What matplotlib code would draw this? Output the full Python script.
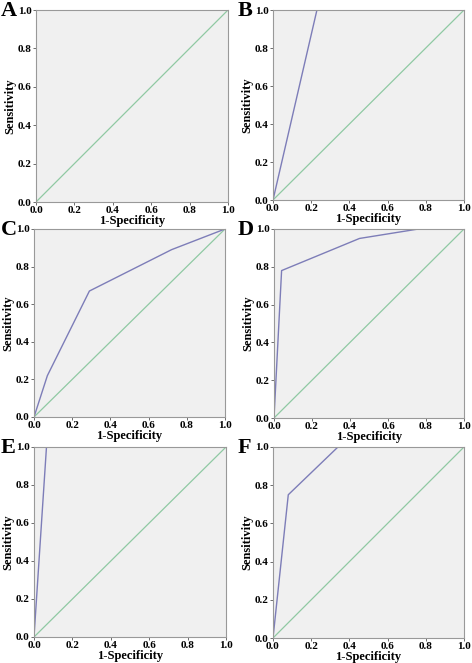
import numpy as np
import matplotlib.pyplot as plt

plt.rcParams['font.family'] = ['Liberation Serif', 'DejaVu Serif']
plt.rcParams['font.weight'] = 'bold'

letters = ['A', 'B', 'C', 'D', 'E', 'F']
# 1-specificity / sensitivity points of each ROC curve
fpr = [
    [0.0, 1.0],
    [0.0, 0.23, 1.0],
    [0.0, 0.07, 0.29, 0.72, 1.0],
    [0.0, 0.04, 0.45, 0.76, 1.0],
    [0.0, 0.065, 1.0],
    [0.0, 0.08, 0.34, 1.0],
]
tpr = [
    [0.0, 1.0],
    [0.0, 1.0, 1.0],
    [0.0, 0.22, 0.67, 0.89, 1.0],
    [0.0, 0.78, 0.95, 1.0, 1.0],
    [0.0, 1.0, 1.0],
    [0.0, 0.75, 1.0, 1.0],
]
ticks = [0.0, 0.2, 0.4, 0.6, 0.8, 1.0]

W, H = 472, 663
# axes boxes in pixels: left, top, right, bottom
boxes = [
    (36, 10, 228, 202), (273, 10, 464, 200),
    (34, 229, 225, 417), (274, 229, 464, 418),
    (34, 447, 226, 637), (273, 447, 464, 638),
]

fig = plt.figure(figsize=(W / 100, H / 100), dpi=100)
for i, (l, t, r, b) in enumerate(boxes):
    ax = fig.add_axes([l / W, 1 - b / H, (r - l) / W, (b - t) / H])
    ax.set_facecolor('#f0f0f0')
    ax.plot([0, 1], [0, 1], color='#8fc9a3', lw=0.9)
    if i > 0:
        ax.plot(fpr[i], tpr[i], color='#7d7db8', lw=1.0)
    ax.set_xlim(0, 1)
    ax.set_ylim(0, 1)
    ax.set_xticks(ticks)
    ax.set_yticks(ticks)
    ax.set_xticklabels([f'{v:.1f}' for v in ticks])
    ax.set_yticklabels([f'{v:.1f}' for v in ticks])
    ax.tick_params(labelsize=8, length=2, width=0.6, pad=1, color='#555555')
    for s in ax.spines.values():
        s.set_color('#999999')
        s.set_linewidth(0.8)
    ax.set_xlabel('1-Specificity', fontsize=9, fontweight='bold', labelpad=0)
    ax.set_ylabel('Sensitivity', fontsize=9, fontweight='bold', labelpad=1)
    lx = 1 if i % 2 == 0 else 238
    fig.text(lx / W, 1 - (t + 1) / H, letters[i], fontsize=16,
             fontweight='bold', va='center', ha='left')

fig.savefig('out.png', dpi=100)
